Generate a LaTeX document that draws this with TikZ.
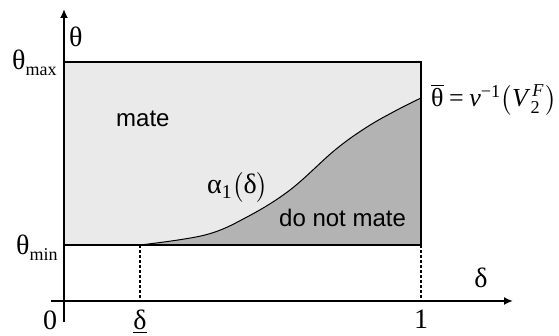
\documentclass[tikz,border=0pt]{standalone}
\usepackage{amsmath}
\usepackage{fontspec}
\setmainfont{Liberation Serif}
\newfontfamily\arialfont{Liberation Sans}
\usetikzlibrary{arrows.meta}
\definecolor{lightfill}{HTML}{EAEAEA}
\definecolor{darkfill}{HTML}{B3B3B3}
\tikzset{
  axis/.style={line width=2.4pt, -{Latex[length=9pt,width=8pt]}},
  frame/.style={line width=1.2pt},
  guide/.style={line width=1.7pt, dash pattern=on 3pt off 2pt},
  serif/.style={inner sep=0pt, font=\fontsize{28}{32}\selectfont},
  sans/.style={inner sep=0pt, font=\arialfont\fontsize{24}{28}\selectfont},
}
\newcommand{\subtext}[1]{\raisebox{-6pt}{\fontsize{18}{20}\selectfont #1}}
\begin{document}
\begin{tikzpicture}[x=1pt,y=-1pt]
\useasboundingbox (0,0) rectangle (559,336);
% coordinates
\coordinate (TL) at (64,62);
\coordinate (TR) at (421,62);
\coordinate (BR) at (421,245);
\coordinate (BL) at (64,245);
\coordinate (S) at (140,245);
\coordinate (Sx) at (140,301);
\coordinate (Rx) at (421,301);
\coordinate (ybot) at (64,322);
\coordinate (ytop) at (64,9);
\coordinate (xl) at (51,301);
\coordinate (xr) at (513,301);
% regions
\fill[lightfill] (TL) rectangle (BR);
\fill[darkfill] plot[smooth, tension=0.6] coordinates {(140,245) (205,235) (247,217) (290,190) (335,150) (367,127) (397,110) (421,98)} -- (BR) -- cycle;
\draw[line width=1pt] plot[smooth, tension=0.6] coordinates {(140,245) (205,235) (247,217) (290,190) (335,150) (367,127) (397,110) (421,98)};
\draw[frame] (TL) -- (TR) -- (BR) -- (BL);
\draw[guide] (S) -- (Sx);
\draw[guide] (BR) -- (Rx);
% axes
\draw[axis] (xl) -- (xr);
\draw[axis] (ybot) -- (ytop);
% labels
\node[serif, anchor=base west] (lth) at (69,46.5) {θ};
\node[serif, anchor=base west] (lmax) at (12,69.5) {θ\subtext{max}};
\node[serif, anchor=base west] (lmin) at (16,254.5) {θ\subtext{min}};
\node[serif, anchor=base] (l0) at (50,329) {0};
\node[serif, anchor=base] (ld) at (140,329) {$\underline{\text{δ}}$};
\node[serif, anchor=base] (l1) at (421,328) {1};
\node[serif, anchor=base] (lx) at (481,288) {δ};
\node[sans, anchor=base west] (lmate) at (116,127) {mate};
\node[sans, anchor=base west] (lno) at (279,227) {do not mate};
\node[serif, anchor=base west] (lalpha) at (207,194) {$\text{α}_{\text{1}}\big(\text{δ}\big)$};
\node[serif, anchor=base west, font=\fontsize{26}{30}\selectfont] (lf) at (431,107) {$\overline{\text{θ}}\mkern4mu\text{=}\mkern4mu\text{\textit{v}}^{\text{−1}}\big(\text{\textit{V}}_{\text{2}}^{\mkern2mu\text{\textit{F}}}\mkern1mu\big)$};
\end{tikzpicture}
\end{document}
